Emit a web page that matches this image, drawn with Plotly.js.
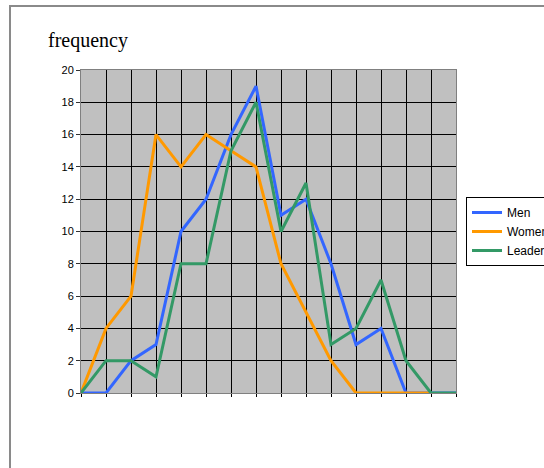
<!DOCTYPE html>
<html>
<head>
<meta charset="utf-8">
<script src="https://cdn.plot.ly/plotly-3.0.1.min.js"></script>
<style>
  html, body { margin: 0; padding: 0; background: #fff; }
  #wrap { position: relative; width: 544px; height: 468px; overflow: hidden; }
  #chart { position: absolute; left: 0; top: 0; width: 544px; height: 468px; }
  #frame { position: absolute; left: 9px; top: 5px; width: 600px; height: 600px;
           border-left: 2px solid #8a8a8a; border-top: 2px solid #8a8a8a; pointer-events: none; }
</style>
</head>
<body>
<div id="wrap">
  <div id="chart"></div>
  <div id="frame"></div>
</div>
<script>
// categories (unlabeled positions along the x axis)
const categories = [0, 1, 2, 3, 4, 5, 6, 7, 8, 9, 10, 11, 12, 13, 14, 15];
const seriesNames = ["Men", "Women", "Leaders"];
const men     = [0, 0, 2, 3, 10, 12, 16, 19, 11, 12, 8, 3, 4, 0, 0, 0];
const women   = [0, 4, 6, 16, 14, 16, 15, 14, 8, 5, 2, 0, 0, 0, 0];
const leaders = [0, 2, 2, 1, 8, 8, 15, 18, 10, 13, 3, 4, 7, 2, 0, 0];
const yTicks  = [0, 2, 4, 6, 8, 10, 12, 14, 16, 18, 20];
const titleText = "frequency";

const colors = ["#3366FF", "#FF9900", "#339966"];
const values = [men, women, leaders];

const traces = values.map((v, i) => ({
  type: "scatter",
  mode: "lines",
  name: seriesNames[i],
  x: categories.slice(0, v.length),
  y: v,
  line: { color: colors[i], width: 3 },
  hoverinfo: "skip"
}));

const layout = {
  width: 544,
  height: 468,
  margin: { l: 81, r: 88, t: 70, b: 75, autoexpand: false },
  paper_bgcolor: "#ffffff",
  plot_bgcolor: "#C0C0C0",
  title: {
    text: titleText,
    font: { family: "Liberation Serif, Times New Roman, serif", size: 20, color: "#000" },
    x: 48 / 544, xanchor: "left", xref: "container",
    y: 1 - 33 / 468, yanchor: "top", yref: "container"
  },
  xaxis: {
    range: [0, 15],
    tickvals: categories,
    showticklabels: false,
    ticks: "outside", ticklen: 3, tickcolor: "#000", tickwidth: 1,
    showgrid: true, gridcolor: "#000000", gridwidth: 1,
    zeroline: false,
    showline: true, linecolor: "#808080", linewidth: 1, mirror: true,
    fixedrange: true
  },
  yaxis: {
    range: [0, 20],
    tickvals: yTicks,
    ticktext: yTicks.map(String),
    ticks: "outside", ticklen: 4, tickcolor: "#333", tickwidth: 1,
    tickfont: { family: "Liberation Sans, Arial, sans-serif", size: 11, color: "#000" },
    showgrid: true, gridcolor: "#000000", gridwidth: 1,
    zeroline: false,
    showline: true, linecolor: "#808080", linewidth: 1, mirror: true,
    fixedrange: true
  },
  showlegend: true,
  legend: {
    x: (466 - 81) / 375, xanchor: "left",
    y: (393 - 197) / 323, yanchor: "top",
    bgcolor: "#ffffff",
    bordercolor: "#000000", borderwidth: 1,
    font: { family: "Liberation Sans, Arial, sans-serif", size: 12, color: "#000" },
    tracegroupgap: 0
  }
};

Plotly.newPlot("chart", traces, layout, { staticPlot: true, displayModeBar: false });
</script>
</body>
</html>
